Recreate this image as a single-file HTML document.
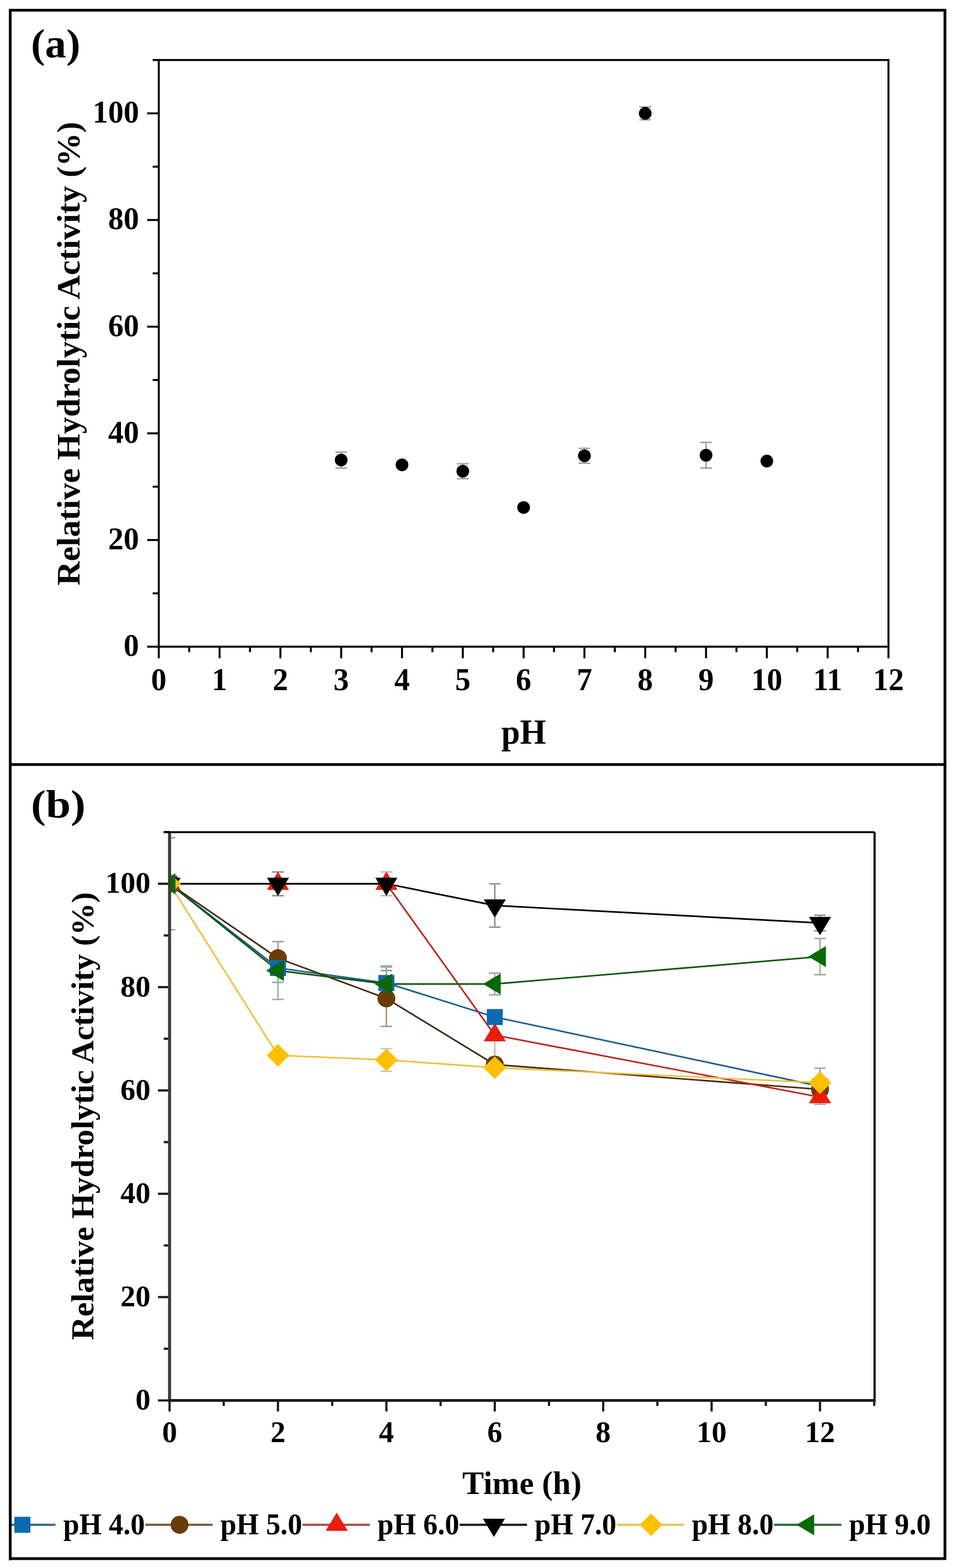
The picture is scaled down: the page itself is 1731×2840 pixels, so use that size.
<!DOCTYPE html>
<html><head><meta charset="utf-8"><title>Relative Hydrolytic Activity vs pH and Time</title>
<style>html,body{margin:0;padding:0;background:#fff;width:1731px;height:2840px;overflow:hidden}</style></head><body>
<svg width="1731" height="2840" viewBox="0 0 1731 2840" style="display:block">
<rect x="0" y="0" width="1731" height="2840" fill="#fff"/>
<rect x="18.5" y="18.5" width="1692.5" height="2804.5" fill="none" stroke="#000" stroke-width="5"/>
<line x1="16" y1="1384.7" x2="1713.5" y2="1384.7" stroke="#000" stroke-width="5"/>
<g stroke="#000" stroke-width="3.6" fill="none"><line x1="266.5" y1="1171.3" x2="287.5" y2="1171.3"/><line x1="276.5" y1="1074.7" x2="287.5" y2="1074.7"/><line x1="266.5" y1="978.1" x2="287.5" y2="978.1"/><line x1="276.5" y1="881.5" x2="287.5" y2="881.5"/><line x1="266.5" y1="784.9" x2="287.5" y2="784.9"/><line x1="276.5" y1="688.3" x2="287.5" y2="688.3"/><line x1="266.5" y1="591.7" x2="287.5" y2="591.7"/><line x1="276.5" y1="495.1" x2="287.5" y2="495.1"/><line x1="266.5" y1="398.5" x2="287.5" y2="398.5"/><line x1="276.5" y1="301.9" x2="287.5" y2="301.9"/><line x1="266.5" y1="205.3" x2="287.5" y2="205.3"/><line x1="276.5" y1="108.7" x2="287.5" y2="108.7"/><line x1="287.5" y1="1171.3" x2="287.5" y2="1192.3"/><line x1="342.6" y1="1171.3" x2="342.6" y2="1181.3"/><line x1="397.6" y1="1171.3" x2="397.6" y2="1192.3"/><line x1="452.6" y1="1171.3" x2="452.6" y2="1181.3"/><line x1="507.7" y1="1171.3" x2="507.7" y2="1192.3"/><line x1="562.8" y1="1171.3" x2="562.8" y2="1181.3"/><line x1="617.8" y1="1171.3" x2="617.8" y2="1192.3"/><line x1="672.8" y1="1171.3" x2="672.8" y2="1181.3"/><line x1="727.9" y1="1171.3" x2="727.9" y2="1192.3"/><line x1="783.0" y1="1171.3" x2="783.0" y2="1181.3"/><line x1="838.0" y1="1171.3" x2="838.0" y2="1192.3"/><line x1="893.0" y1="1171.3" x2="893.0" y2="1181.3"/><line x1="948.1" y1="1171.3" x2="948.1" y2="1192.3"/><line x1="1003.1" y1="1171.3" x2="1003.1" y2="1181.3"/><line x1="1058.2" y1="1171.3" x2="1058.2" y2="1192.3"/><line x1="1113.2" y1="1171.3" x2="1113.2" y2="1181.3"/><line x1="1168.3" y1="1171.3" x2="1168.3" y2="1192.3"/><line x1="1223.3" y1="1171.3" x2="1223.3" y2="1181.3"/><line x1="1278.4" y1="1171.3" x2="1278.4" y2="1192.3"/><line x1="1333.5" y1="1171.3" x2="1333.5" y2="1181.3"/><line x1="1388.5" y1="1171.3" x2="1388.5" y2="1192.3"/><line x1="1443.5" y1="1171.3" x2="1443.5" y2="1181.3"/><line x1="1498.6" y1="1171.3" x2="1498.6" y2="1192.3"/><line x1="1553.6" y1="1171.3" x2="1553.6" y2="1181.3"/><line x1="1608.7" y1="1171.3" x2="1608.7" y2="1192.3"/></g>
<rect x="287.5" y="108.7" width="1321.2" height="1062.6" fill="none" stroke="#000" stroke-width="3.6"/>
<g font-family='"Liberation Serif", "Times New Roman", serif' font-weight="bold" font-size="56" fill="#000"><text x="251.7" y="1188.1" text-anchor="end">0</text><text x="251.7" y="994.9" text-anchor="end">20</text><text x="251.7" y="801.7" text-anchor="end">40</text><text x="251.7" y="608.5" text-anchor="end">60</text><text x="251.7" y="415.3" text-anchor="end">80</text><text x="251.7" y="222.1" text-anchor="end">100</text><text x="287.5" y="1250" text-anchor="middle">0</text><text x="397.6" y="1250" text-anchor="middle">1</text><text x="507.7" y="1250" text-anchor="middle">2</text><text x="617.8" y="1250" text-anchor="middle">3</text><text x="727.9" y="1250" text-anchor="middle">4</text><text x="838.0" y="1250" text-anchor="middle">5</text><text x="948.1" y="1250" text-anchor="middle">6</text><text x="1058.2" y="1250" text-anchor="middle">7</text><text x="1168.3" y="1250" text-anchor="middle">8</text><text x="1278.4" y="1250" text-anchor="middle">9</text><text x="1388.5" y="1250" text-anchor="middle">10</text><text x="1498.6" y="1250" text-anchor="middle">11</text><text x="1608.7" y="1250" text-anchor="middle">12</text></g>
<text x="948.2" y="1346.6" text-anchor="middle" font-family='"Liberation Serif", "Times New Roman", serif' font-weight="bold" font-size="62.5" textLength="81" lengthAdjust="spacingAndGlyphs">pH</text>
<text transform="translate(144,640.4) rotate(-90)" x="0" y="0" text-anchor="middle" font-family='"Liberation Serif", "Times New Roman", serif' font-weight="bold" font-size="60" textLength="840" lengthAdjust="spacingAndGlyphs">Relative Hydrolytic Activity (%)</text>
<text x="56" y="103.5" font-family='"Liberation Serif", "Times New Roman", serif' font-weight="bold" font-size="73" textLength="89.5" lengthAdjust="spacingAndGlyphs">(a)</text>
<g stroke="#999" stroke-width="2.5" fill="none"><path d="M607.3 818.7H628.3M617.8 818.7V847.7M607.3 847.7H628.3"/><path d="M827.5 840.0H848.5M838.0 840.0V867.0M827.5 867.0H848.5"/><path d="M1047.7 811.9H1068.7M1058.2 811.9V839.0M1047.7 839.0H1068.7"/><path d="M1157.8 193.7H1178.8M1168.3 193.7V216.9M1157.8 216.9H1178.8"/><path d="M1267.9 801.3H1288.9M1278.4 801.3V847.7M1267.9 847.7H1288.9"/></g>
<g fill="#000"><circle cx="617.8" cy="833.2" r="11.5"/><circle cx="727.9" cy="841.9" r="11.5"/><circle cx="838.0" cy="853.5" r="11.5"/><circle cx="948.1" cy="919.2" r="11.5"/><circle cx="1058.2" cy="825.5" r="11.5"/><circle cx="1168.3" cy="205.3" r="11.5"/><circle cx="1278.4" cy="824.5" r="11.5"/><circle cx="1388.5" cy="835.1" r="11.5"/></g>
<defs><clipPath id="cb"><rect x="307.0" y="1507.3" width="1276.6" height="1029.2"/></clipPath></defs>
<g stroke="#1a1a1a" stroke-width="4" fill="none"><line x1="286.0" y1="2536.5" x2="307.0" y2="2536.5"/><line x1="296.5" y1="2442.9" x2="307.0" y2="2442.9"/><line x1="286.0" y1="2349.3" x2="307.0" y2="2349.3"/><line x1="296.5" y1="2255.8" x2="307.0" y2="2255.8"/><line x1="286.0" y1="2162.2" x2="307.0" y2="2162.2"/><line x1="296.5" y1="2068.6" x2="307.0" y2="2068.6"/><line x1="286.0" y1="1975.0" x2="307.0" y2="1975.0"/><line x1="296.5" y1="1881.4" x2="307.0" y2="1881.4"/><line x1="286.0" y1="1787.9" x2="307.0" y2="1787.9"/><line x1="296.5" y1="1694.3" x2="307.0" y2="1694.3"/><line x1="286.0" y1="1600.7" x2="307.0" y2="1600.7"/><line x1="296.5" y1="1507.1" x2="307.0" y2="1507.1"/><line x1="307.0" y1="2536.5" x2="307.0" y2="2556.5"/><line x1="405.1" y1="2536.5" x2="405.1" y2="2546.5"/><line x1="503.3" y1="2536.5" x2="503.3" y2="2556.5"/><line x1="601.5" y1="2536.5" x2="601.5" y2="2546.5"/><line x1="699.6" y1="2536.5" x2="699.6" y2="2556.5"/><line x1="797.8" y1="2536.5" x2="797.8" y2="2546.5"/><line x1="895.9" y1="2536.5" x2="895.9" y2="2556.5"/><line x1="994.1" y1="2536.5" x2="994.1" y2="2546.5"/><line x1="1092.2" y1="2536.5" x2="1092.2" y2="2556.5"/><line x1="1190.3" y1="2536.5" x2="1190.3" y2="2546.5"/><line x1="1288.5" y1="2536.5" x2="1288.5" y2="2556.5"/><line x1="1386.7" y1="2536.5" x2="1386.7" y2="2546.5"/><line x1="1484.8" y1="2536.5" x2="1484.8" y2="2556.5"/><line x1="1583.0" y1="2536.5" x2="1583.0" y2="2546.5"/></g>
<g font-family='"Liberation Serif", "Times New Roman", serif' font-weight="bold" font-size="54.5" fill="#000"><text x="272.6" y="2553.1" text-anchor="end">0</text><text x="272.6" y="2365.9" text-anchor="end">20</text><text x="272.6" y="2178.8" text-anchor="end">40</text><text x="272.6" y="1991.6" text-anchor="end">60</text><text x="272.6" y="1804.5" text-anchor="end">80</text><text x="272.6" y="1617.3" text-anchor="end">100</text><text x="307.0" y="2611.7" text-anchor="middle">0</text><text x="503.3" y="2611.7" text-anchor="middle">2</text><text x="699.6" y="2611.7" text-anchor="middle">4</text><text x="895.9" y="2611.7" text-anchor="middle">6</text><text x="1092.2" y="2611.7" text-anchor="middle">8</text><text x="1288.5" y="2611.7" text-anchor="middle">10</text><text x="1484.8" y="2611.7" text-anchor="middle">12</text></g>
<text x="945" y="2705.7" text-anchor="middle" font-family='"Liberation Serif", "Times New Roman", serif' font-weight="bold" font-size="58.5" textLength="216" lengthAdjust="spacingAndGlyphs">Time (h)</text>
<text transform="translate(169,2021.5) rotate(-90)" x="0" y="0" text-anchor="middle" font-family='"Liberation Serif", "Times New Roman", serif' font-weight="bold" font-size="56" textLength="811" lengthAdjust="spacingAndGlyphs">Relative Hydrolytic Activity (%)</text>
<text x="56" y="1480.5" font-family='"Liberation Serif", "Times New Roman", serif' font-weight="bold" font-size="72.5" textLength="99" lengthAdjust="spacingAndGlyphs">(b)</text>
<g clip-path="url(#cb)"><polyline points="307.0,1600.7 503.3,1753.2 699.6,1780.4 895.9,1842.1 1484.8,1967.5" fill="none" stroke="#1c5f92" stroke-width="2.9" stroke-linejoin="round"/><polyline points="307.0,1600.7 503.3,1735.5 699.6,1808.4 895.9,1928.2 1484.8,1973.1" fill="none" stroke="#452c10" stroke-width="2.9" stroke-linejoin="round"/><polyline points="307.0,1600.7 503.3,1600.7 699.6,1600.7 895.9,1874.9 1484.8,1987.2" fill="none" stroke="#b8261c" stroke-width="2.9" stroke-linejoin="round"/><polyline points="307.0,1600.7 503.3,1600.7 699.6,1600.7 895.9,1640.0 1484.8,1671.8" fill="none" stroke="#000000" stroke-width="2.9" stroke-linejoin="round"/><polyline points="307.0,1600.7 503.3,1911.4 699.6,1919.8 895.9,1933.8 1484.8,1961.0" fill="none" stroke="#efc03c" stroke-width="2.9" stroke-linejoin="round"/><polyline points="307.0,1600.7 503.3,1757.9 699.6,1782.2 895.9,1782.2 1484.8,1732.6" fill="none" stroke="#0b560f" stroke-width="2.9" stroke-linejoin="round"/><path d="M492.8 1727.0H513.8M503.3 1727.0V1779.4M492.8 1779.4H513.8" stroke="#8fa9c4" stroke-width="2.6" fill="none"/><path d="M689.1 1749.5H710.1M699.6 1749.5V1811.3M689.1 1811.3H710.1" stroke="#8fa9c4" stroke-width="2.6" fill="none"/><path d="M1474.3 1934.8H1495.3M1484.8 1934.8V2000.3M1474.3 2000.3H1495.3" stroke="#8fa9c4" stroke-width="2.6" fill="none"/><path d="M492.8 1705.5H513.8M503.3 1705.5V1765.4M492.8 1765.4H513.8" stroke="#a09480" stroke-width="2.6" fill="none"/><path d="M689.1 1757.9H710.1M699.6 1757.9V1859.0M689.1 1859.0H710.1" stroke="#a09480" stroke-width="2.6" fill="none"/><path d="M492.8 1579.2H513.8M503.3 1579.2V1622.2M492.8 1622.2H513.8" stroke="#e0a8a8" stroke-width="2.6" fill="none"/><path d="M689.1 1579.2H710.1M699.6 1579.2V1622.2M689.1 1622.2H710.1" stroke="#e0a8a8" stroke-width="2.6" fill="none"/><path d="M885.4 1834.7H906.4M895.9 1834.7V1915.1M885.4 1915.1H906.4" stroke="#e0a8a8" stroke-width="2.6" fill="none"/><path d="M492.8 1579.2H513.8M503.3 1579.2V1622.2M492.8 1622.2H513.8" stroke="#8a8a8a" stroke-width="2.6" fill="none"/><path d="M885.4 1600.7H906.4M895.9 1600.7V1679.3M885.4 1679.3H906.4" stroke="#8a8a8a" stroke-width="2.6" fill="none"/><path d="M1474.3 1657.8H1495.3M1484.8 1657.8V1685.9M1474.3 1685.9H1495.3" stroke="#8a8a8a" stroke-width="2.6" fill="none"/><path d="M689.1 1899.2H710.1M699.6 1899.2V1940.4M689.1 1940.4H710.1" stroke="#c8c8b0" stroke-width="2.6" fill="none"/><path d="M296.5 1517.4H317.5M307.0 1517.4V1684.0M296.5 1684.0H317.5" stroke="#98b098" stroke-width="2.6" fill="none"/><path d="M492.8 1705.5H513.8M503.3 1705.5V1810.3M492.8 1810.3H513.8" stroke="#98b098" stroke-width="2.6" fill="none"/><path d="M689.1 1751.4H710.1M699.6 1751.4V1813.1M689.1 1813.1H710.1" stroke="#98b098" stroke-width="2.6" fill="none"/><path d="M885.4 1762.6H906.4M895.9 1762.6V1801.9M885.4 1801.9H906.4" stroke="#98b098" stroke-width="2.6" fill="none"/><path d="M1474.3 1699.9H1495.3M1484.8 1699.9V1765.4M1474.3 1765.4H1495.3" stroke="#98b098" stroke-width="2.6" fill="none"/><rect x="292.5" y="1586.2" width="29.0" height="29.0" fill="#0b6ab2"/><circle cx="307.0" cy="1600.7" r="16.2" fill="#6a3c08"/><path d="M307.0 1578.7L327.0 1611.7L287.0 1611.7Z" fill="#ea1c0a"/><path d="M287.0 1589.7L327.0 1589.7L307.0 1622.7Z" fill="#000000"/><path d="M307.0 1580.2L327.5 1600.7L307.0 1621.2L286.5 1600.7Z" fill="#fcc000"/><path d="M285.7 1600.7L317.7 1581.7L317.7 1619.7Z" fill="#0a680a"/><circle cx="503.3" cy="1735.5" r="16.2" fill="#6a3c08"/><rect x="488.8" y="1738.7" width="29.0" height="29.0" fill="#0b6ab2"/><path d="M482.0 1757.9L514.0 1738.9L514.0 1776.9Z" fill="#0a680a"/><path d="M503.3 1578.7L523.3 1611.7L483.3 1611.7Z" fill="#ea1c0a"/><path d="M483.3 1589.7L523.3 1589.7L503.3 1622.7Z" fill="#000000"/><path d="M503.3 1890.9L523.8 1911.4L503.3 1931.9L482.8 1911.4Z" fill="#fcc000"/><circle cx="699.6" cy="1808.4" r="16.2" fill="#6a3c08"/><rect x="685.1" y="1765.9" width="29.0" height="29.0" fill="#0b6ab2"/><path d="M678.3 1782.2L710.3 1763.2L710.3 1801.2Z" fill="#0a680a"/><path d="M699.6 1578.7L719.6 1611.7L679.6 1611.7Z" fill="#ea1c0a"/><path d="M679.6 1589.7L719.6 1589.7L699.6 1622.7Z" fill="#000000"/><path d="M699.6 1899.3L720.1 1919.8L699.6 1940.3L679.1 1919.8Z" fill="#fcc000"/><path d="M895.9 1852.9L915.9 1885.9L875.9 1885.9Z" fill="#ea1c0a"/><rect x="881.4" y="1827.6" width="29.0" height="29.0" fill="#0b6ab2"/><circle cx="895.9" cy="1928.2" r="16.2" fill="#6a3c08"/><path d="M895.9 1913.3L916.4 1933.8L895.9 1954.3L875.4 1933.8Z" fill="#fcc000"/><path d="M875.9 1629.0L915.9 1629.0L895.9 1662.0Z" fill="#000000"/><path d="M874.6 1782.2L906.6 1763.2L906.6 1801.2Z" fill="#0a680a"/><rect x="1470.3" y="1953.0" width="29.0" height="29.0" fill="#0b6ab2"/><circle cx="1484.8" cy="1973.1" r="16.2" fill="#6a3c08"/><path d="M1484.8 1965.2L1504.8 1998.2L1464.8 1998.2Z" fill="#ea1c0a"/><path d="M1484.8 1940.5L1505.3 1961.0L1484.8 1981.5L1464.3 1961.0Z" fill="#fcc000"/><path d="M1464.8 1660.8L1504.8 1660.8L1484.8 1693.8Z" fill="#000000"/><path d="M1463.5 1732.6L1495.5 1713.6L1495.5 1751.6Z" fill="#0a680a"/></g>
<line x1="296.5" y1="1507.3" x2="1583.6" y2="1507.3" stroke="#000" stroke-width="3.6"/>
<line x1="1583.6" y1="1507.3" x2="1583.6" y2="2536.5" stroke="#111" stroke-width="4"/>
<line x1="307.0" y1="1508.8" x2="307.0" y2="2538.5" stroke="#383c38" stroke-width="5.5"/>
<line x1="304.3" y1="2536.5" x2="1585.6" y2="2536.5" stroke="#1c1c1c" stroke-width="5"/>
<g><line x1="21.0" y1="2761.8" x2="100.5" y2="2761.8" stroke="#36698e" stroke-width="4"/><rect x="26.0" y="2747.3" width="29.0" height="29.0" fill="#0b6ab2"/><text x="114.4" y="2779.3" font-family='"Liberation Serif", "Times New Roman", serif' font-weight="bold" font-size="54.5" textLength="148" lengthAdjust="spacingAndGlyphs">pH 4.0</text><line x1="263.1" y1="2761.8" x2="385.1" y2="2761.8" stroke="#735c3c" stroke-width="4"/><circle cx="325.1" cy="2761.8" r="16.2" fill="#6a3c08"/><text x="399.0" y="2779.3" font-family='"Liberation Serif", "Times New Roman", serif' font-weight="bold" font-size="54.5" textLength="148" lengthAdjust="spacingAndGlyphs">pH 5.0</text><line x1="547.7" y1="2761.8" x2="669.7" y2="2761.8" stroke="#b4483f" stroke-width="4"/><path d="M609.7 2739.8L629.7 2772.8L589.7 2772.8Z" fill="#ea1c0a"/><text x="683.6" y="2779.3" font-family='"Liberation Serif", "Times New Roman", serif' font-weight="bold" font-size="54.5" textLength="148" lengthAdjust="spacingAndGlyphs">pH 6.0</text><line x1="832.3" y1="2761.8" x2="954.3" y2="2761.8" stroke="#1a1a1a" stroke-width="4"/><path d="M874.3 2750.8L914.3 2750.8L894.3 2783.8Z" fill="#000000"/><text x="968.2" y="2779.3" font-family='"Liberation Serif", "Times New Roman", serif' font-weight="bold" font-size="54.5" textLength="148" lengthAdjust="spacingAndGlyphs">pH 7.0</text><line x1="1116.9" y1="2761.8" x2="1238.9" y2="2761.8" stroke="#eac455" stroke-width="4"/><path d="M1178.9 2741.3L1199.4 2761.8L1178.9 2782.3L1158.4 2761.8Z" fill="#fcc000"/><text x="1252.8" y="2779.3" font-family='"Liberation Serif", "Times New Roman", serif' font-weight="bold" font-size="54.5" textLength="148" lengthAdjust="spacingAndGlyphs">pH 8.0</text><line x1="1401.5" y1="2761.8" x2="1523.5" y2="2761.8" stroke="#2f663a" stroke-width="4"/><path d="M1442.2 2761.8L1474.2 2742.8L1474.2 2780.8Z" fill="#0a680a"/><text x="1537.4" y="2779.3" font-family='"Liberation Serif", "Times New Roman", serif' font-weight="bold" font-size="54.5" textLength="148" lengthAdjust="spacingAndGlyphs">pH 9.0</text></g>
<line x1="18.5" y1="2700" x2="18.5" y2="2826" stroke="#000" stroke-width="5"/>
</svg>
</body></html>
